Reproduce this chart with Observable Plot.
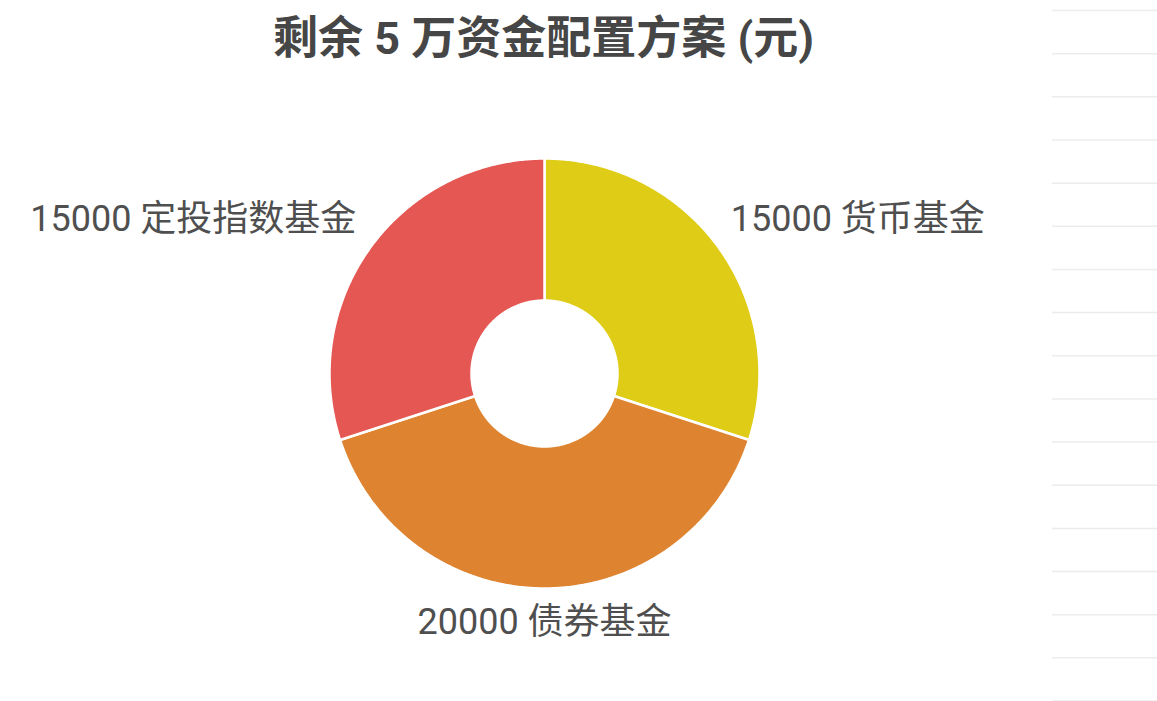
<!DOCTYPE html>
<html>
<head>
<meta charset="utf-8">
<script src="https://cdn.jsdelivr.net/npm/d3@7"></script>
<script src="https://cdn.jsdelivr.net/npm/@observablehq/plot@0.6"></script>
<style>
  html, body { margin: 0; padding: 0; background: #fff; }
  #wrap { position: relative; width: 1157px; height: 701px; overflow: hidden; }
  #title { position: absolute; left: 0; width: 1087px; top: 11px; text-align: center;
    font-family: Roboto, "Noto Sans CJK SC", sans-serif; font-weight: bold; font-size: 45px;
    color: #464646; line-height: 56px; z-index: 2; }
  #main { position: absolute; left: 0; top: 0; }
  #strip { position: absolute; left: 1052px; top: 0; }
</style>
</head>
<body>
<div id="wrap">
  <div id="title">剩余 5 万资金配置方案 (元)</div>
  <div id="main"></div>
  <div id="strip"></div>
</div>
<script>
const categories = ["货币基金", "债券基金", "定投指数基金"];
const amounts = [15000, 20000, 15000];
const colors = ["#dfcc17", "#de8430", "#e55753"];
const stripRows = d3.range(17);

const W = 1157, H = 701, cx = 544, cy = 373, R = 215;
const innerRatio = 73 / 215;
const labelRadius = 1.22;

const total = d3.sum(amounts);
let acc = 0;
const slices = categories.map((c, i) => {
  const a0 = acc / total * 2 * Math.PI;
  acc += amounts[i];
  const a1 = acc / total * 2 * Math.PI;
  return {cat: c, value: amounts[i], a0, a1, mid: (a0 + a1) / 2};
});

const pts = [];
for (const s of slices) {
  const n = Math.max(2, Math.ceil((s.a1 - s.a0) / (Math.PI / 360)));
  for (let k = 0; k <= n; k++) {
    const a = s.a0 + (s.a1 - s.a0) * k / n;
    pts.push({cat: s.cat, x: Math.sin(a), y: Math.cos(a)});
  }
  for (let k = n; k >= 0; k--) {
    const a = s.a0 + (s.a1 - s.a0) * k / n;
    pts.push({cat: s.cat, x: innerRatio * Math.sin(a), y: innerRatio * Math.cos(a)});
  }
}

const labels = slices.map(s => ({
  text: `${s.value} ${s.cat}`,
  x: labelRadius * Math.sin(s.mid),
  y: labelRadius * Math.cos(s.mid),
  side: Math.abs(Math.sin(s.mid)) < 0.1 ? "mid" : (Math.sin(s.mid) > 0 ? "right" : "left")
}));

const font = "Roboto, 'Noto Sans CJK SC', sans-serif";
const textCommon = {text: "text", x: "x", y: "y", fontSize: 36, fill: "#4f4f4f", fontFamily: font, lineAnchor: "middle"};

const chart = Plot.plot({
  width: W, height: H,
  marginTop: 0, marginBottom: 0, marginLeft: 0, marginRight: 0,
  x: {domain: [-cx / R, (W - cx) / R], range: [0, W], axis: null},
  y: {domain: [-(H - cy) / R, cy / R], range: [H, 0], axis: null},
  color: {domain: categories, range: colors},
  style: {background: "transparent"},
  marks: [
    Plot.line(pts, {x: "x", y: "y", z: "cat", fill: "cat", stroke: "#fff", strokeWidth: 2.5, curve: "linear-closed", strokeLinejoin: "round"}),
    Plot.text(labels.filter(d => d.side === "right"), {...textCommon, textAnchor: "start", dx: -26}),
    Plot.text(labels.filter(d => d.side === "left"), {...textCommon, textAnchor: "end", dx: 24}),
    Plot.text(labels.filter(d => d.side === "mid"), {...textCommon, textAnchor: "middle", dy: -13})
  ]
});
document.getElementById("main").appendChild(chart);

const strip = Plot.plot({
  width: 105, height: H,
  marginTop: 0, marginBottom: 0, marginLeft: 0, marginRight: 0,
  x: {domain: [0, 1], range: [0, 105], axis: null},
  y: {domain: [0, 16], range: [10, 700.5], axis: null},
  marks: [
    Plot.ruleY(stripRows, {y: d => d, x1: 0, x2: 1, stroke: "#ececec", strokeWidth: 1.5})
  ]
});
document.getElementById("strip").appendChild(strip);
</script>
</body>
</html>
